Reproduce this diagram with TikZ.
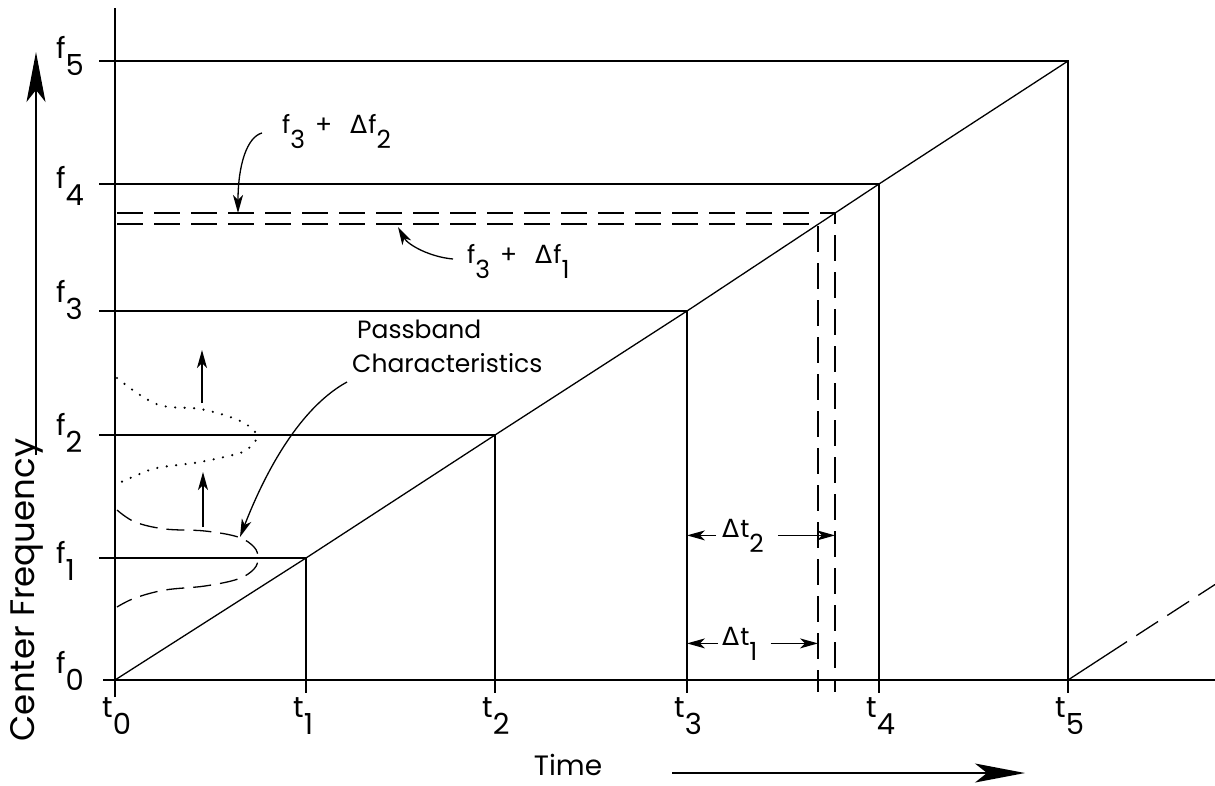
\documentclass[tikz,border=0pt]{standalone}
\usepackage{fontspec}
\setmainfont{Poppins}
\newfontfamily\grkfont{DejaVu Sans}
\usetikzlibrary{arrows.meta,calc}
\newcommand{\dlt}{{\grkfont Δ}\hspace{1pt}}
\newcommand{\lowsub}[1]{\raisebox{-0.6em}{#1}}
\tikzset{
  axisline/.style={line width=2.6pt},
  lvlline/.style ={line width=1.3pt},
  dshline/.style ={line width=1.3pt, dash pattern=on 26pt off 11pt},
  ticklbl/.style ={font=\fontsize{29}{33}\selectfont, inner sep=0pt, anchor=base west},
  notelbl/.style ={font=\fontsize{25}{29}\selectfont, inner sep=0pt, anchor=base west},
  axislbl/.style ={font=\fontsize{28}{32}\selectfont, inner sep=0pt, anchor=base},
  arr/.style     ={-{Stealth[length=18pt,width=10pt,inset=5pt]}, line width=1.3pt},
  bigarr/.style  ={-{Stealth[length=50pt,width=19pt,inset=12pt]}, line width=1.5pt},
}
\begin{document}
\begin{tikzpicture}[x=1pt,y=-1pt]
  \useasboundingbox (0,0) rectangle (1215,785);
  % levels, corners and tick labels
  \foreach \i/\tx/\fy/\fb in {0/115/680/673, 1/306/558/563, 2/495/435/435,
                              3/687/311/302, 4/879/184/188, 5/1068/61/58}{
    \coordinate (t\i) at (\tx,680);
    \coordinate (c\i) at (\tx,\fy);
    \coordinate (a\i) at (99,\fy);
    \coordinate (b\i) at (\tx,693);
    \node[ticklbl] (lf\i) at (56,\fb) {f\lowsub{\i}};
    \node[ticklbl] (lt\i) at (\tx-13,717) {t\lowsub{\i}};
  }
  \foreach \i in {1,...,5} \draw[lvlline] (a\i) -- (c\i) -- (b\i);
  \draw[lvlline] (c0) -- (c1) -- (c2) -- (c3) -- (c4) -- (c5);
  % axes
  \coordinate (yax0) at (115,697);
  \coordinate (yax1) at (115,8);
  \coordinate (xax0) at (103,680);
  \coordinate (xax1) at (1215,680);
  \draw[axisline] (yax0) -- (yax1);
  \draw[axisline] (xax0) -- (xax1);
  % next sweep
  \coordinate (q1) at (1127,641.6);
  \coordinate (q2) at (1215,584.5);
  \draw[lvlline] (t5) -- (q1);
  \draw[dshline, dash phase=26pt] (q1) -- (q2);
  % f3 + delta f levels
  \coordinate (e2) at (117,213);
  \coordinate (d2) at (835,213);
  \coordinate (g2) at (835,692);
  \coordinate (e1) at (117,224);
  \coordinate (d1) at (818,224);
  \coordinate (g1) at (818,692);
  \draw[dshline] (e2) -- (d2) -- (g2);
  \draw[dshline] (e1) -- (d1) -- (g1);
  % passband curves
  \draw[lvlline, dash pattern=on 18pt off 9pt] plot[smooth, tension=0.6] coordinates
    {(117,510) (135,522) (165,529) (205,531) (238,537) (254,547) (258,558)
     (254,569) (238,579) (205,586) (165,590) (135,598) (117,607)};
  \draw[line width=2.4pt, dash pattern=on 0pt off 9.5pt, line cap=round] plot[smooth, tension=0.6] coordinates
    {(117,378) (140,395) (163,406) (200,409) (233,418) (250,427) (257,437)
     (250,447) (240,453) (200,462) (157,468) (135,476) (119,483)};
  \coordinate (s1) at (202,403);
  \coordinate (s1e) at (202,350);
  \coordinate (s2) at (203,527);
  \coordinate (s2e) at (203,472);
  \draw[arr] (s1) -- (s1e);
  \draw[arr] (s2) -- (s2e);
  % labels with leaders
  \node[notelbl] (fa2) at (282,133) {f\lowsub{3}\hspace{10pt}+\hspace{18pt}\dlt f\lowsub{2}};
  \node[notelbl] (fa1) at (467,263) {f\lowsub{3}\hspace{10pt}+\hspace{18pt}\dlt f\lowsub{1}};
  \coordinate (p2) at (238,213);
  \coordinate (p1) at (398,227);
  \draw[arr] ([xshift=-20pt]fa2.base west) .. controls (247,137) and (238,165) .. (p2);
  \draw[arr] ([xshift=-14pt,yshift=4pt]fa1.base west) .. controls (430,257) and (408,245) .. (p1);
  \node[notelbl] (pb1) at (357,338) {Passband};
  \node[notelbl] (pb2) at (352,372) {Characteristics};
  \coordinate (p0) at (240,537);
  \draw[arr] ([xshift=-5pt,yshift=-10pt]pb2.base west) .. controls (305,405) and (270,460) .. (p0);
  % delta t
  \node[notelbl] (dt2) at (722,537) {\dlt t\lowsub{2}};
  \node[notelbl] (dt1) at (722,645) {\dlt t\lowsub{1}};
  \draw[arr] ([xshift=-6pt]dt2.west) -- (dt2.west -| t3);
  \draw[arr] ([xshift=14pt]dt2.east) -- (dt2.east -| g2);
  \draw[arr] ([xshift=-4pt]dt1.west) -- (dt1.west -| t3);
  \draw[arr] ([xshift=13pt]dt1.east) -- (dt1.east -| g1);
  % axis labels
  \node[axislbl, rotate=90, font=\fontsize{34}{38}\selectfont] (cf) at (34,590) {Center Frequency};
  \node[axislbl] (tm) at (568,775) {Time};
  \coordinate (fq0) at (36,455);
  \coordinate (fq1) at (36,52);
  \coordinate (ta0) at (672,773);
  \coordinate (ta1) at (1025,773);
  \draw[bigarr] (fq0) -- (fq1);
  \draw[bigarr] (ta0) -- (ta1);
\end{tikzpicture}
\end{document}
